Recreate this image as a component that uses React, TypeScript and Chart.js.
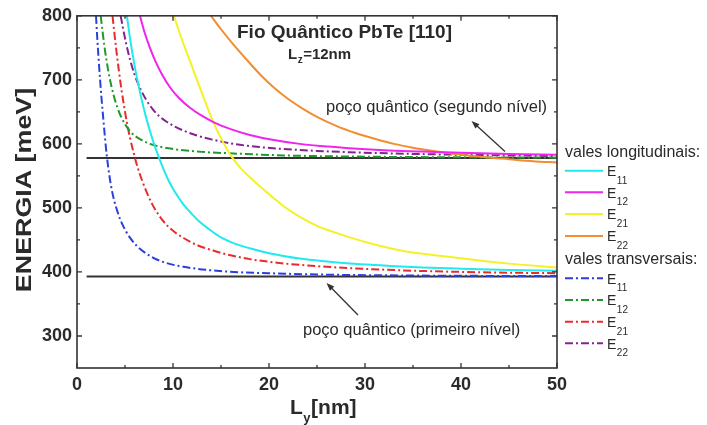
import React, { useEffect, useRef } from 'react';
import { Chart, registerables } from 'chart.js';

Chart.register(...registerables);

// ---------- data ----------
const X_TICKS = [0, 10, 20, 30, 40, 50];
const X_MINOR = [5, 15, 25, 35, 45];
const Y_TICKS = [300, 400, 500, 600, 700, 800];
const Y_MINOR = [350, 450, 550, 650, 750];

// longitudinal valleys (solid)
const LONG_E11_X = [5.2, 5.5, 5.8, 6.1, 6.4, 6.8, 7.2, 7.6, 8.0, 8.5, 9.0, 9.5, 10.0, 10.5, 11.1, 12.0, 12.8, 14, 15, 16.3, 18, 19.8, 21.5, 23.2, 25.5, 28.4, 32, 36, 40, 45, 50];
const LONG_E11_Y = [800, 767, 739, 714, 692, 665, 641, 620, 601, 580, 561, 544, 530, 518, 505, 490, 478, 464, 454, 445, 437, 430, 425, 421, 417, 413, 410, 407, 405, 403, 402];
const LONG_E12_X = [6.56, 7.0, 7.6, 8.2, 8.9, 9.7, 10.6, 11.8, 13, 14.2, 16, 18, 20.5, 23.2, 26, 28.4, 32, 36, 40, 45, 50];
const LONG_E12_Y = [800, 776, 750, 728, 707, 688, 672, 656, 644, 634, 623, 614, 606, 600, 596, 593, 590, 588, 586, 584, 583];
const LONG_E21_X = [10.1, 10.6, 11.2, 11.8, 12.4, 13.0, 13.5, 14, 14.5, 15, 15.5, 16.1, 17, 18, 19.5, 21.5, 23, 25, 27, 28.4, 31, 34.3, 38, 41.3, 45, 50];
const LONG_E21_Y = [800, 777, 752, 728, 704, 680, 660, 641, 624, 609, 595, 580, 563, 548, 528, 503, 488, 472, 461, 454, 443, 432, 425, 419, 413, 407];
const LONG_E22_X = [13.96, 15, 16.3, 17.7, 19.1, 20.5, 22, 23.5, 25, 27, 29, 31, 33, 35, 37.5, 40, 42.5, 45, 47.5, 50];
const LONG_E22_Y = [800, 779, 755, 731, 708, 688, 670, 655, 642, 628, 617, 608, 600, 594, 588, 583, 579, 576, 573, 571];

// transverse valleys (dash-dot)
const TRANS_E11_X = [1.98, 2.1, 2.25, 2.4, 2.55, 2.7, 2.9, 3.1, 3.35, 3.6, 3.9, 4.2, 4.5, 5.0, 5.5, 6.2, 7.0, 7.95, 9.3, 11.1, 13, 16.3, 20, 25, 30, 40, 50];
const TRANS_E11_Y = [800, 768, 733, 701, 672, 646, 612, 582, 553, 530, 510, 495, 482, 466, 454, 441, 431, 422, 414, 408, 404, 400, 398, 396, 395, 394, 393.5];
const TRANS_E12_X = [2.47, 2.65, 2.85, 3.1, 3.4, 3.8, 4.2, 4.6, 5.0, 5.5, 6.0, 6.6, 7.6, 8.5, 9.5, 11.1, 13, 16.3, 21.5, 30, 40, 50];
const TRANS_E12_Y = [800, 777, 753, 728, 703, 677, 657, 642, 631, 620, 613, 607, 600, 596, 593, 590, 587.5, 585, 582, 580, 579, 578.5];
const TRANS_E21_X = [3.7, 3.9, 4.1, 4.35, 4.6, 4.9, 5.2, 5.5, 5.9, 6.3, 6.8, 7.3, 7.9, 8.6, 9.3, 10.2, 11.1, 12.5, 14.5, 16, 18, 20.5, 23.2, 26, 28.4, 32, 36, 42, 50];
const TRANS_E21_Y = [800, 772, 746, 716, 688, 659, 633, 611, 586, 564, 542, 523, 504, 487, 474, 462, 453, 442, 432, 426, 420, 415, 411, 408, 406, 403.5, 401.5, 399.5, 398];
const TRANS_E22_X = [4.55, 4.8, 5.1, 5.5, 6.0, 6.6, 7.2, 7.9, 8.6, 9.3, 10.2, 11.2, 12.5, 14, 16.3, 19, 21.5, 25, 28.4, 33, 40, 50];
const TRANS_E22_Y = [800, 780, 758, 733, 708, 686, 669, 654, 643, 635, 627, 620, 613, 607, 600, 595, 592, 589, 587, 585, 583, 581];

// quantum-well levels (horizontal black lines)
const WELL_X = [1, 50];
const WELL_LEVEL_1 = 393;
const WELL_LEVEL_2 = 578;

const LEGEND_SUBS = ['11', '12', '21', '22'];
const LONG_COLORS = ['#22e9ee', '#f024ee', '#f4f226', '#f28d30'];
const TRANS_COLORS = ['#2b3fe0', '#1f9a2a', '#ea2b2b', '#86228f'];
const DASH_DOT = [8, 3, 2, 3];

const FONT = '"Liberation Sans", Arial, Helvetica, sans-serif';
const INK = '#2a2a2a';

function pts(xs: number[], ys: number[]) {
  return xs.map((x, i) => ({ x, y: ys[i] }));
}

function textSub(
  ctx: CanvasRenderingContext2D,
  x: number,
  y: number,
  main: string,
  sub: string,
  mainFont: string,
  subFont: string,
  subDy: number,
  tail?: string
) {
  ctx.textAlign = 'left';
  ctx.textBaseline = 'middle';
  ctx.font = mainFont;
  ctx.fillText(main, x, y);
  const w = ctx.measureText(main).width;
  ctx.font = subFont;
  ctx.fillText(sub, x + w + 0.5, y + subDy);
  const ws = ctx.measureText(sub).width;
  if (tail) {
    ctx.font = mainFont;
    ctx.fillText(tail, x + w + ws + 1, y);
  }
}

function arrow(ctx: CanvasRenderingContext2D, tx: number, ty: number, hx: number, hy: number) {
  const ang = Math.atan2(hy - ty, hx - tx);
  const L = 8;
  const W = 3;
  ctx.strokeStyle = '#333';
  ctx.fillStyle = '#333';
  ctx.lineWidth = 1.3;
  ctx.beginPath();
  ctx.moveTo(tx, ty);
  ctx.lineTo(hx - Math.cos(ang) * L * 0.8, hy - Math.sin(ang) * L * 0.8);
  ctx.stroke();
  ctx.beginPath();
  ctx.moveTo(hx, hy);
  ctx.lineTo(hx - Math.cos(ang) * L - Math.sin(ang) * W, hy - Math.sin(ang) * L + Math.cos(ang) * W);
  ctx.lineTo(hx - Math.cos(ang) * L + Math.sin(ang) * W, hy - Math.sin(ang) * L - Math.cos(ang) * W);
  ctx.closePath();
  ctx.fill();
}

const decorPlugin = {
  id: 'decor',
  afterDraw(chart: any) {
    const ctx: CanvasRenderingContext2D = chart.ctx;
    const { left, right, top, bottom } = chart.chartArea;
    const xs = chart.scales.x;
    const ys = chart.scales.y;
    ctx.save();

    // frame
    ctx.strokeStyle = '#333';
    ctx.lineWidth = 1.6;
    ctx.strokeRect(left, top, right - left, bottom - top);

    // inward ticks
    ctx.lineWidth = 1.3;
    const tickX = (v: number, len: number) => {
      const p = xs.getPixelForValue(v);
      ctx.beginPath();
      ctx.moveTo(p, bottom);
      ctx.lineTo(p, bottom - len);
      ctx.moveTo(p, top);
      ctx.lineTo(p, top + len);
      ctx.stroke();
    };
    const tickY = (v: number, len: number) => {
      const p = ys.getPixelForValue(v);
      ctx.beginPath();
      ctx.moveTo(left, p);
      ctx.lineTo(left + len, p);
      ctx.moveTo(right, p);
      ctx.lineTo(right - len, p);
      ctx.stroke();
    };
    X_TICKS.forEach((v) => tickX(v, 5));
    X_MINOR.forEach((v) => tickX(v, 3));
    Y_TICKS.forEach((v) => tickY(v, 5));
    Y_MINOR.forEach((v) => tickY(v, 3));

    ctx.fillStyle = INK;

    // y-axis title
    ctx.save();
    ctx.translate(25, 190);
    ctx.rotate(-Math.PI / 2);
    ctx.scale(1.22, 1);
    ctx.font = `bold 22px ${FONT}`;
    ctx.textAlign = 'center';
    ctx.textBaseline = 'middle';
    ctx.fillText('ENERGIA [meV]', 0, 0);
    ctx.restore();

    // x-axis title
    textSub(ctx, 290, 408, 'L', 'y', `bold 21px ${FONT}`, `bold 13px ${FONT}`, 10, '[nm]');

    // plot title
    ctx.font = `bold 19px ${FONT}`;
    ctx.textAlign = 'left';
    ctx.textBaseline = 'middle';
    ctx.fillText('Fio Quântico PbTe [110]', 237, 33);
    textSub(ctx, 288, 55, 'L', 'z', `bold 15px ${FONT}`, `bold 10px ${FONT}`, 5, '=12nm');

    // annotations
    ctx.font = `16.5px ${FONT}`;
    ctx.textAlign = 'left';
    ctx.textBaseline = 'middle';
    ctx.fillStyle = INK;
    ctx.fillText('poço quântico (segundo nível)', 326, 107);
    ctx.fillText('poço quântico (primeiro nível)', 303, 330);
    arrow(ctx, 505, 151.5, 471.5, 121);
    arrow(ctx, 358, 315, 326.5, 283);

    // legend
    ctx.fillStyle = INK;
    ctx.font = `16px ${FONT}`;
    ctx.textAlign = 'left';
    ctx.textBaseline = 'middle';
    ctx.fillText('vales longitudinais:', 565, 153);
    ctx.fillText('vales transversais:', 565, 260);
    const rowsLong = [170.7, 192.3, 214, 236];
    const rowsTrans = [278.3, 300, 321.7, 343.3];
    const drawItem = (y: number, color: string, dashed: boolean, sub: string) => {
      ctx.save();
      ctx.strokeStyle = color;
      ctx.lineWidth = 2;
      ctx.setLineDash(dashed ? DASH_DOT : []);
      ctx.beginPath();
      ctx.moveTo(565, y);
      ctx.lineTo(603, y);
      ctx.stroke();
      ctx.restore();
      ctx.fillStyle = INK;
      textSub(ctx, 607, y + 1.6, 'E', sub, `14px ${FONT}`, `10px ${FONT}`, 8.5);
    };
    LEGEND_SUBS.forEach((s, i) => drawItem(rowsLong[i], LONG_COLORS[i], false, s));
    LEGEND_SUBS.forEach((s, i) => drawItem(rowsTrans[i], TRANS_COLORS[i], true, s));

    ctx.restore();
  },
};

export default function App() {
  const ref = useRef<HTMLCanvasElement | null>(null);

  useEffect(() => {
    if (!ref.current) return;
    const curve = (xs: number[], ys: number[], color: string, dashed: boolean) => ({
      data: pts(xs, ys),
      borderColor: color,
      backgroundColor: color,
      borderWidth: 2,
      borderDash: dashed ? DASH_DOT : [],
      pointRadius: 0,
      fill: false,
      cubicInterpolationMode: 'monotone' as const,
      order: 1,
    });
    const level = (y: number) => ({
      data: WELL_X.map((x) => ({ x, y })),
      borderColor: '#333',
      backgroundColor: '#333',
      borderWidth: 2,
      pointRadius: 0,
      fill: false,
      order: 5,
    });

    const chart = new Chart(ref.current, {
      type: 'line',
      data: {
        datasets: [
          level(WELL_LEVEL_1),
          level(WELL_LEVEL_2),
          curve(LONG_E11_X, LONG_E11_Y, LONG_COLORS[0], false),
          curve(LONG_E12_X, LONG_E12_Y, LONG_COLORS[1], false),
          curve(LONG_E21_X, LONG_E21_Y, LONG_COLORS[2], false),
          curve(LONG_E22_X, LONG_E22_Y, LONG_COLORS[3], false),
          curve(TRANS_E11_X, TRANS_E11_Y, TRANS_COLORS[0], true),
          curve(TRANS_E12_X, TRANS_E12_Y, TRANS_COLORS[1], true),
          curve(TRANS_E21_X, TRANS_E21_Y, TRANS_COLORS[2], true),
          curve(TRANS_E22_X, TRANS_E22_Y, TRANS_COLORS[3], true),
        ] as any,
      },
      options: {
        animation: false,
        responsive: false,
        devicePixelRatio: 1,
        layout: { padding: { left: 0, top: 15, right: 150, bottom: 0 } },
        plugins: { legend: { display: false }, tooltip: { enabled: false }, title: { display: false } },
        scales: {
          x: {
            type: 'linear',
            min: 0,
            max: 50,
            grid: { display: false, drawTicks: false },
            border: { display: false },
            ticks: {
              color: INK,
              padding: 6,
              font: { family: FONT, size: 18, weight: 'bold' },
            },
            afterBuildTicks: (s: any) => {
              s.ticks = X_TICKS.map((v) => ({ value: v }));
            },
            afterFit: (s: any) => {
              s.height = 57;
            },
          },
          y: {
            type: 'linear',
            min: 250,
            max: 800,
            grid: { display: false, drawTicks: false },
            border: { display: false },
            ticks: {
              color: INK,
              padding: 5,
              font: { family: FONT, size: 18, weight: 'bold' },
            },
            afterBuildTicks: (s: any) => {
              s.ticks = Y_TICKS.map((v) => ({ value: v }));
            },
            afterFit: (s: any) => {
              s.width = 77;
            },
          },
        },
      } as any,
      plugins: [decorPlugin],
    });
    return () => chart.destroy();
  }, []);

  return (
    <div style={{ position: 'fixed', left: 0, top: 0, width: 707, height: 425, background: '#fff' }}>
      <canvas ref={ref} width={707} height={425} style={{ display: 'block' }} />
    </div>
  );
}
